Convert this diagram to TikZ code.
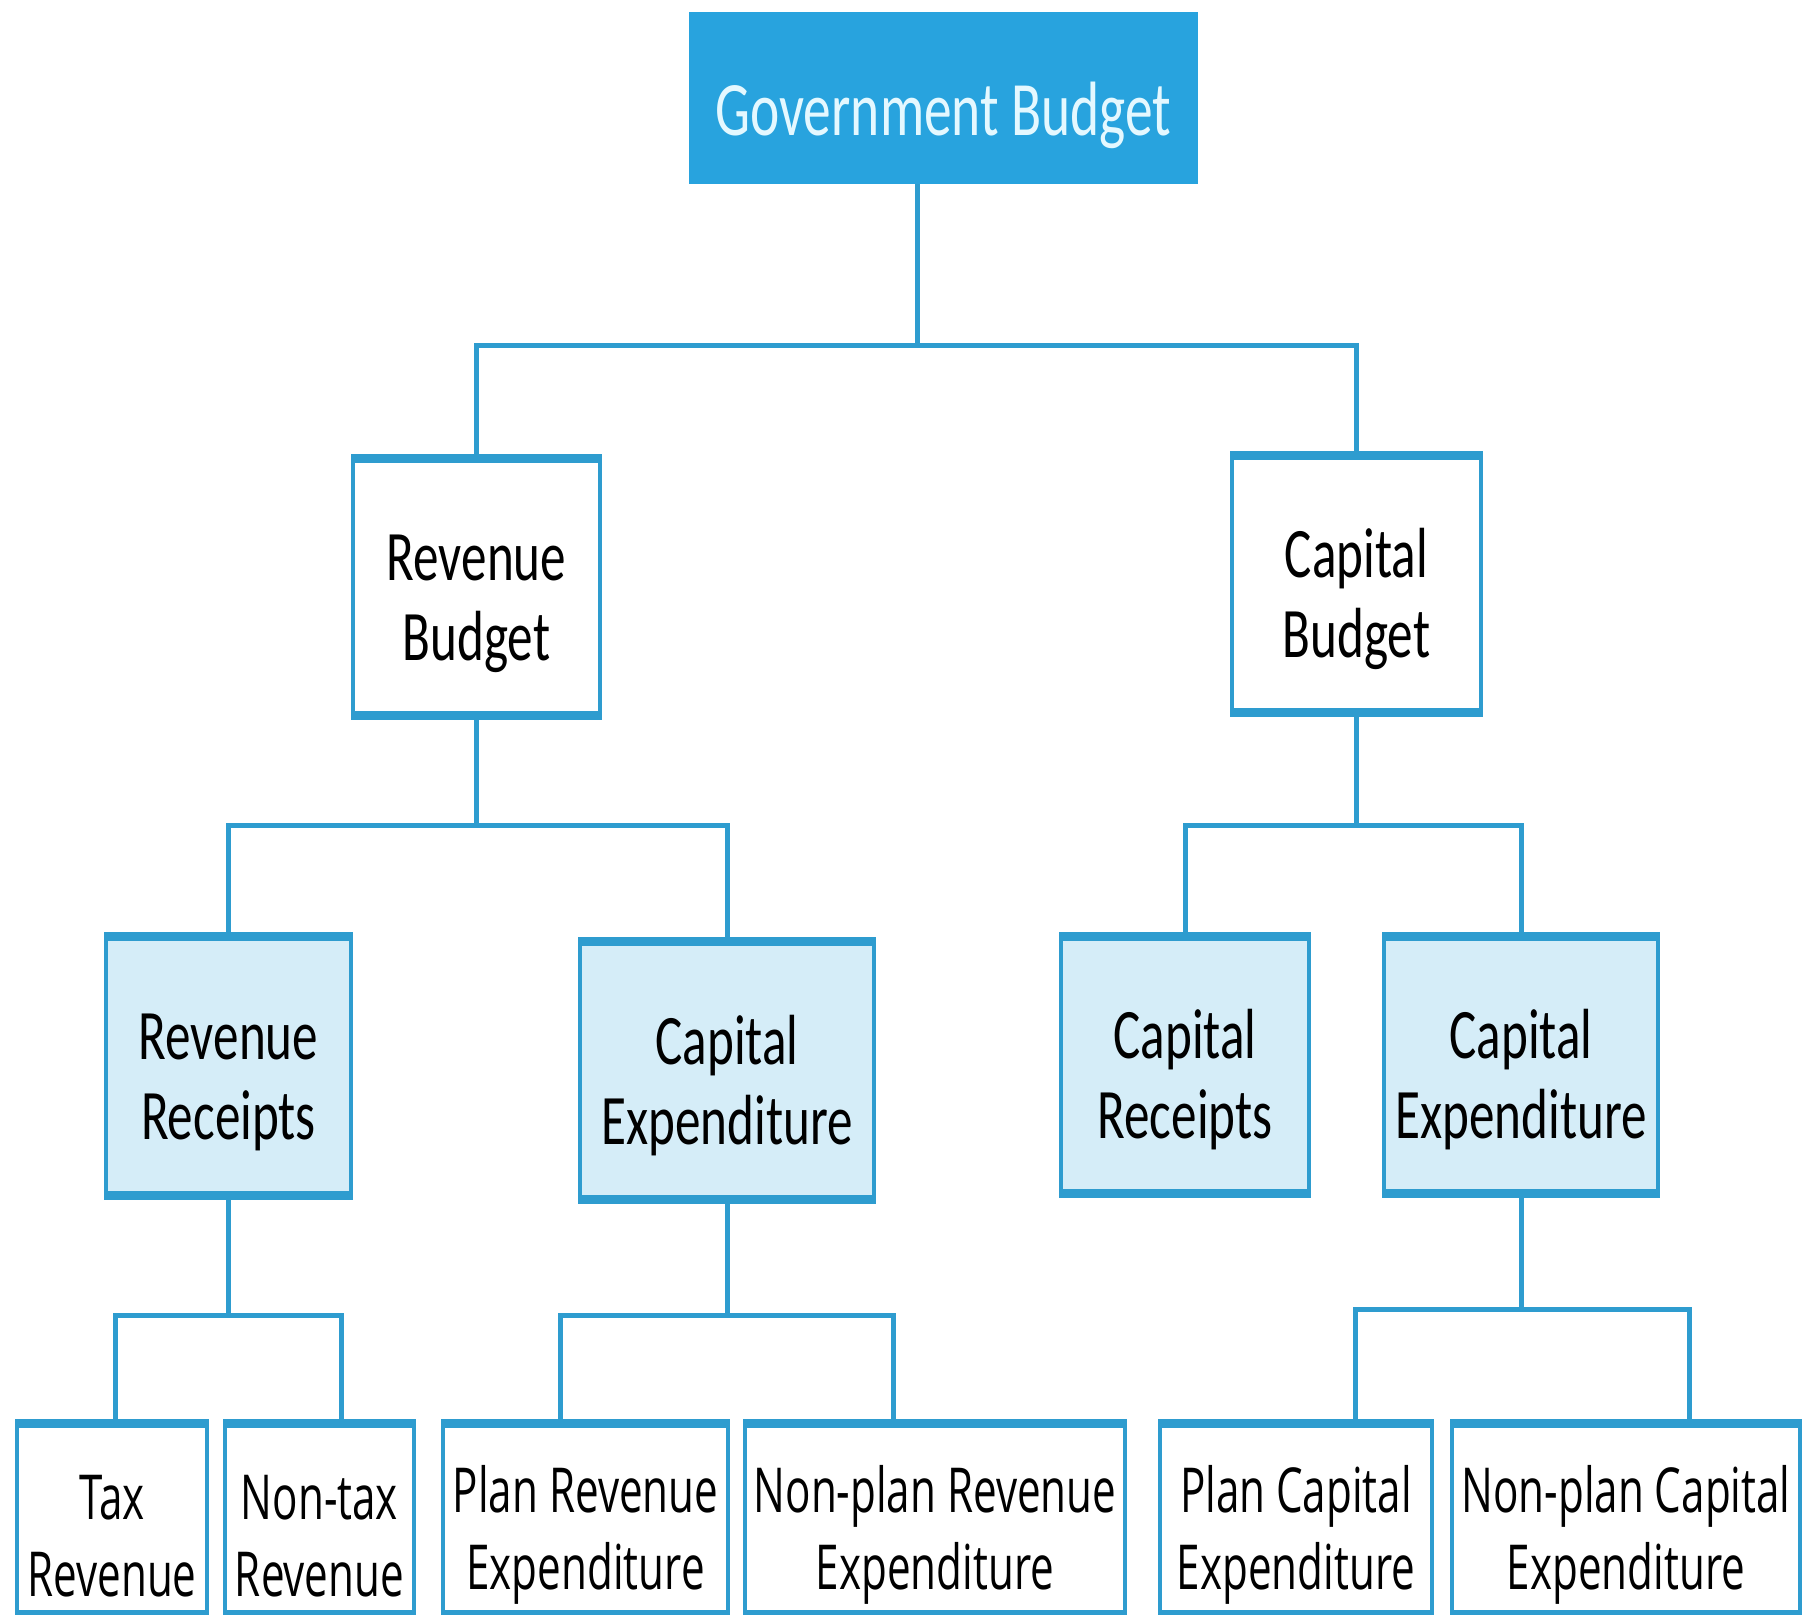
\documentclass[tikz,border=0pt]{standalone}
\usepackage{fontspec}
\newfontfamily\labfont{Carlito}[FakeStretch=0.72]
\newfontfamily\botfont{Open Sans}[FakeStretch=0.68]
\definecolor{lineblue}{HTML}{2E9CCF}
\definecolor{topfill}{HTML}{28A3DE}
\definecolor{lightfill}{HTML}{D5EDF8}
\definecolor{toptext}{HTML}{E4F8FF}
\newcommand{\dnA}{\rule{0pt}{40pt}}
\newcommand{\dnB}{\rule{0pt}{40pt}}
\begin{document}
\begin{tikzpicture}[x=0.5pt,y=-0.5pt,
  sz/.style 2 args={minimum width=#1*0.5pt, minimum height=#2*0.5pt},
  box/.style={draw=lineblue, line width=2pt, inner sep=0pt, align=center, text=black,
    font=\labfont\fontsize{35.5}{40}\selectfont},
  wbox/.style={box, fill=white},
  lbox/.style={box, fill=lightfill},
  bbox/.style={box, fill=white, font=\botfont\fontsize{31}{38.5}\selectfont},
  topbox/.style={fill=topfill, draw=topfill, line width=1pt, inner sep=0pt, text=toptext,
    font=\labfont\fontsize{38.5}{45}\selectfont},
  edge/.style={lineblue, line width=4.5pt},
  conn/.style={lineblue, line width=2.5pt}]
\useasboundingbox (0,0) rectangle (1804,1614);
\fill[white] (0,0) rectangle (1804,1614);

% nodes
\node[topbox, sz={507}{170}] (gb) at (943.5,98) {\rule{0pt}{44pt}Government Budget};
\node[wbox, sz={247}{253}] (rb) at (476.5,586.5) {\dnA Revenue\\Budget};
\node[wbox, sz={249}{253}] (cb) at (1356.5,583.5) {\dnA Capital\\Budget};
\node[lbox, sz={245}{255}] (rr) at (228.5,1065.5) {\dnA Revenue\\Receipts};
\node[lbox, sz={294}{254}] (ce1) at (727,1070) {\dnA Capital\\Expenditure};
\node[lbox, sz={248}{253}] (cr) at (1185,1064.5) {\dnA Capital\\Receipts};
\node[lbox, sz={274}{253}] (ce2) at (1521,1064.5) {\dnA Capital\\Expenditure};
\node[bbox, sz={190}{187}] (tax) at (112,1518.5) {\dnB Tax\\Revenue};
\node[bbox, sz={189}{187}] (ntax) at (319.5,1518.5) {\dnB Non-tax\\Revenue};
\node[bbox, sz={285}{187}] (pre) at (585.5,1518.5) {\dnB Plan Revenue\\Expenditure};
\node[bbox, sz={380}{187}] (npre) at (935,1518.5) {\dnB Non-plan Revenue\\Expenditure};
\node[bbox, sz={272}{187}] (pce) at (1296,1518.5) {\dnB Plan Capital\\Expenditure};
\node[bbox, sz={348}{187}] (npce) at (1626,1518.5) {\dnB Non-plan Capital\\Expenditure};

% thicker top and bottom edges
\foreach \n in {rb,cb,rr,ce1,cr,ce2,tax,ntax,pre,npre,pce,npce}{
  \draw[edge] (\n.north west) -- (\n.north east);
  \draw[edge] (\n.south west) -- (\n.south east);
}

% junction coordinates
\coordinate (b1) at (917,345);
\coordinate (y2) at (0,825);
\coordinate (dTax) at (115,1315);
\coordinate (dNtax) at (341,1315);
\coordinate (dPre) at (560,1315);
\coordinate (dNpre) at (893,1315);
\coordinate (dPce) at (1355,1309);
\coordinate (dNpce) at (1689,1309);

% connectors
\draw[conn] (gb.south -| b1) -- (b1);
\draw[conn] (rb.north) |- (b1) -| (cb.north);
\draw[conn] (rb.south) -- (rb.south |- y2);
\draw[conn] (rr.north) |- (rb.south |- y2) -| (ce1.north);
\draw[conn] (cb.south) -- (cb.south |- y2);
\draw[conn] (cr.north) |- (cb.south |- y2) -| (ce2.north);
\draw[conn] (rr.south) -- (rr.south |- dTax);
\draw[conn] (tax.north -| dTax) -- (dTax) -- (dNtax) -- (ntax.north -| dNtax);
\draw[conn] (ce1.south) -- (ce1.south |- dPre);
\draw[conn] (pre.north -| dPre) -- (dPre) -- (dNpre) -- (npre.north -| dNpre);
\draw[conn] (ce2.south) -- (ce2.south |- dPce);
\draw[conn] (pce.north -| dPce) -- (dPce) -- (dNpce) -- (npce.north -| dNpce);
\end{tikzpicture}
\end{document}
